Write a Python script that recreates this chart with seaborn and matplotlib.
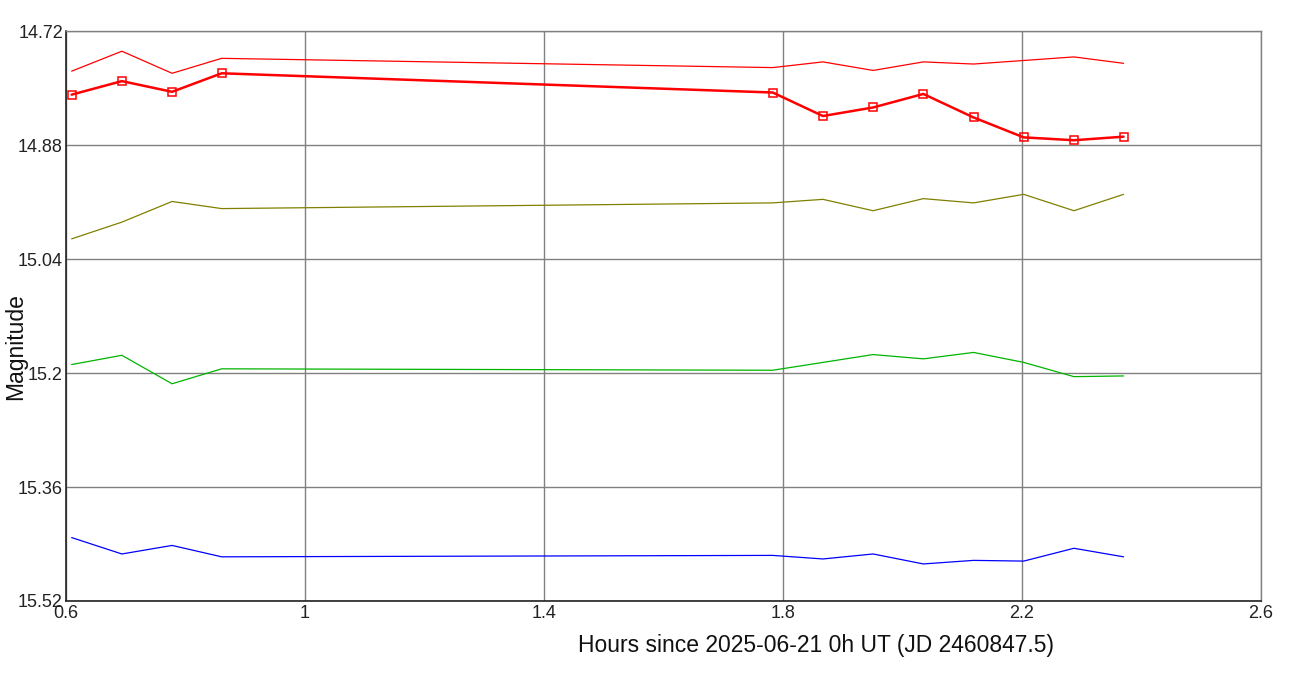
import pandas as pd
import seaborn as sns
import matplotlib
matplotlib.use("Agg")
import matplotlib.pyplot as plt

# observation times (hours since 2025-06-21 0h UT)
hours = [0.610, 0.694, 0.778, 0.861, 1.783, 1.867, 1.951, 2.035, 2.119, 2.203, 2.287, 2.370]

# magnitudes per star
target = [14.809, 14.790, 14.805, 14.779, 14.806, 14.839, 14.827, 14.808, 14.841, 14.869, 14.873, 14.868]
comp_red = [14.776, 14.748, 14.779, 14.758, 14.771, 14.763, 14.775, 14.763, 14.766, 14.761, 14.756, 14.765]
comp_olive = [15.0115, 14.988, 14.959, 14.969, 14.961, 14.956, 14.972, 14.955, 14.961, 14.949, 14.972, 14.949]
comp_green = [15.188, 15.175, 15.215, 15.194, 15.196, 15.185, 15.174, 15.180, 15.171, 15.185, 15.205, 15.204]
comp_blue = [15.431, 15.454, 15.442, 15.458, 15.456, 15.461, 15.454, 15.468, 15.463, 15.464, 15.446, 15.458]

x_ticks = [0.6, 1.0, 1.4, 1.8, 2.2, 2.6]
x_ticklabels = ["0.6", "1", "1.4", "1.8", "2.2", "2.6"]
y_ticks = [14.72, 14.88, 15.04, 15.2, 15.36, 15.52]
y_ticklabels = ["14.72", "14.88", "15.04", "15.2", "15.36", "15.52"]

sns.set_style("white")
plt.rcParams['font.family'] = ['Liberation Sans', 'DejaVu Sans']

fig = plt.figure(figsize=(12.98, 6.77), dpi=100)
ax = fig.add_axes([0.0506, 0.1123, 0.9209, 0.8415])

# grid first so lines sit on top
for xv in x_ticks:
    ax.axvline(xv, color='#808080', lw=1, zorder=0)
for yv in y_ticks:
    ax.axhline(yv, color='#808080', lw=1, zorder=0)

# comparison stars - thin lines
sns.lineplot(x=hours, y=comp_red, color='#ff0000', lw=0.9, ax=ax)
sns.lineplot(x=hours, y=comp_olive, color='#808000', lw=0.9, ax=ax)
sns.lineplot(x=hours, y=comp_green, color='#00b400', lw=0.9, ax=ax)
sns.lineplot(x=hours, y=comp_blue, color='#0000ff', lw=0.9, ax=ax)

# target star - thick with open squares
sns.lineplot(x=hours, y=target, color='#ff0000', lw=1.8, marker='s',
             markersize=5.5, markerfacecolor='none', markeredgecolor='#ff0000',
             markeredgewidth=1.1, ax=ax)

ax.set_xlim(0.6, 2.6)
ax.set_ylim(15.52, 14.72)
ax.set_xticks(x_ticks)
ax.set_xticklabels(x_ticklabels)
ax.set_yticks(y_ticks)
ax.set_yticklabels(y_ticklabels)
ax.tick_params(axis='both', length=0, labelsize=13, colors='#222222')
ax.tick_params(axis='x', pad=3)
ax.tick_params(axis='y', pad=2)

for side in ['top', 'right']:
    ax.spines[side].set_color('#808080')
    ax.spines[side].set_linewidth(1)
for side in ['left', 'bottom']:
    ax.spines[side].set_color('#222222')
    ax.spines[side].set_linewidth(1.2)

ax.set_xlabel('Hours since 2025-06-21 0h UT (JD 2460847.5)', fontsize=16.5, color='#111111')
ax.xaxis.set_label_coords(0.628, -0.058)
ax.set_ylabel('Magnitude', fontsize=16.5, color='#111111')
ax.yaxis.set_label_coords(-0.032, 0.446)

fig.savefig('out.png', dpi=100)
